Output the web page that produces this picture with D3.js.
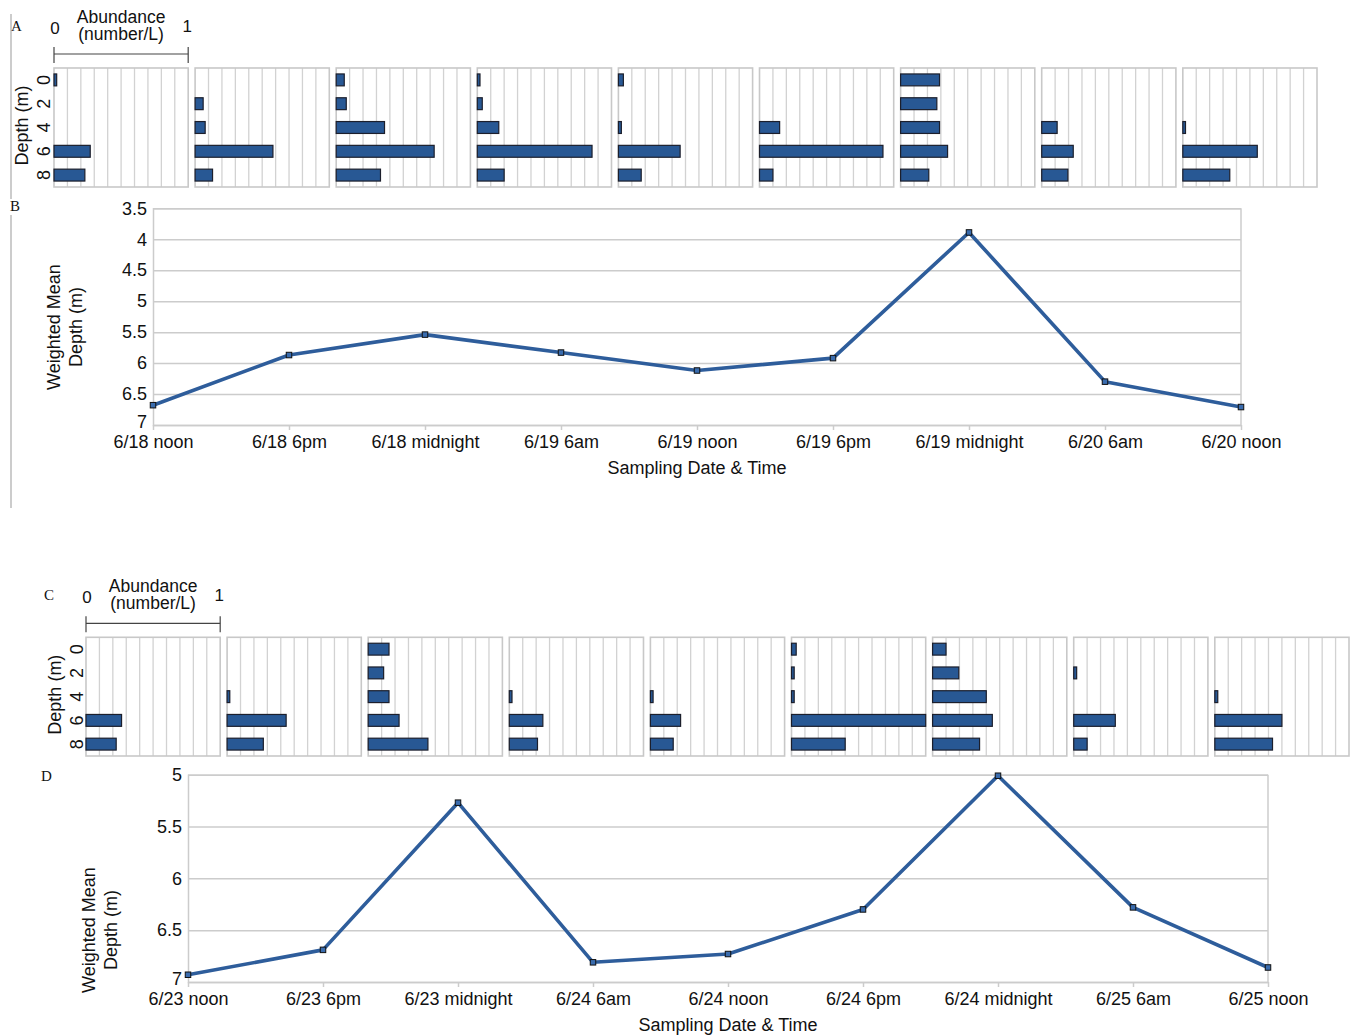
<!DOCTYPE html>
<html>
<head>
<meta charset="utf-8">
<script src="https://cdn.jsdelivr.net/npm/d3@7"></script>
<style>
  html, body { margin: 0; padding: 0; background: #fff; }
  svg { display: block; }
  text { font-family: "Liberation Sans", Arial, sans-serif; fill: #111; }
  .letter { font-family: "Liberation Serif", "Times New Roman", serif; font-size: 15px; }
</style>
</head>
<body>
<svg id="chart" width="1351" height="1035"></svg>
<script>
// Sampling depths (m) of each vertical profile
const depths = [0, 2, 4, 6, 8];

// First sampling series (panels A and B)
const timesAB = ["6/18 noon", "6/18 6pm", "6/18 midnight", "6/19 6am", "6/19 noon",
                 "6/19 6pm", "6/19 midnight", "6/20 6am", "6/20 noon"];
// Abundance (number/L) at depths 0, 2, 4, 6, 8 m for each sampling time
const abundanceA = [
  [0.02, 0, 0, 0.27, 0.23],
  [0, 0.06, 0.075, 0.58, 0.13],
  [0.06, 0.075, 0.36, 0.73, 0.33],
  [0.02, 0.037, 0.16, 0.855, 0.2],
  [0.037, 0, 0.022, 0.46, 0.17],
  [0, 0, 0.15, 0.92, 0.1],
  [0.29, 0.27, 0.29, 0.35, 0.21],
  [0, 0, 0.115, 0.235, 0.195],
  [0, 0, 0.02, 0.555, 0.35]
];
const meanDepthB = [6.68, 5.87, 5.54, 5.83, 6.12, 5.92, 3.89, 6.30, 6.71];
const yTicksB = [3.5, 4, 4.5, 5, 5.5, 6, 6.5, 7];

// Second sampling series (panels C and D)
const timesCD = ["6/23 noon", "6/23 6pm", "6/23 midnight", "6/24 6am", "6/24 noon",
                 "6/24 6pm", "6/24 midnight", "6/25 6am", "6/25 noon"];
const abundanceC = [
  [0, 0, 0, 0.265, 0.225],
  [0, 0, 0.02, 0.44, 0.27],
  [0.155, 0.115, 0.155, 0.23, 0.445],
  [0, 0, 0.02, 0.25, 0.21],
  [0, 0, 0.02, 0.225, 0.17],
  [0.035, 0.02, 0.02, 1.0, 0.40],
  [0.10, 0.195, 0.40, 0.445, 0.35],
  [0, 0.022, 0, 0.31, 0.10],
  [0, 0, 0.022, 0.50, 0.43]
];
const meanDepthD = [6.93, 6.69, 5.27, 6.81, 6.73, 6.30, 5.01, 6.28, 6.86];
const yTicksD = [5, 5.5, 6, 6.5, 7];

const BAR_FILL = "#285894";
const BAR_STROKE = "#1c1f2c";
const LINE_COLOR = "#2e5d9b";
const GRID = "#cccccc";

const svg = d3.select("#chart");

// Row of small depth-profile bar panels with the abundance scale bar above
function drawProfiles(cfg) {
  const g = svg.append("g");
  const panelX = d3.scaleBand().domain(cfg.times).range([cfg.x0, cfg.x1])
    .paddingInner(0.049).paddingOuter(0);
  const bw = panelX.bandwidth();
  const ab = d3.scaleLinear().domain([0, 1]).range([0, bw]);
  const rowY = d3.scaleBand().domain(depths).range([cfg.top, cfg.bottom])
    .paddingInner(0.5).paddingOuter(0.25);

  // abundance scale bar
  const sx = panelX(cfg.times[0]);
  const ly = cfg.scaleY;
  g.append("line").attr("x1", sx + ab(0)).attr("x2", sx + ab(1))
    .attr("y1", ly).attr("y2", ly).attr("stroke", "#444").attr("stroke-width", 1.2);
  [0, 1].forEach(v => {
    g.append("line").attr("x1", sx + ab(v)).attr("x2", sx + ab(v))
      .attr("y1", ly - 7).attr("y2", ly + 9).attr("stroke", "#444").attr("stroke-width", 1.2);
  });
  g.append("text").attr("x", sx + ab(0) + 1).attr("y", ly - 20.5)
    .attr("text-anchor", "middle").attr("font-size", 17).text("0");
  g.append("text").attr("x", sx + ab(1) - 1).attr("y", ly - 22.5)
    .attr("text-anchor", "middle").attr("font-size", 17).text("1");
  g.append("text").attr("x", sx + ab(0.5)).attr("y", ly - 31.5)
    .attr("text-anchor", "middle").attr("font-size", 17.5).text("Abundance");
  g.append("text").attr("x", sx + ab(0.5)).attr("y", ly - 14)
    .attr("text-anchor", "middle").attr("font-size", 17.5).text("(number/L)");

  // depth axis
  const depthLabelX = cfg.depthLabelX;
  depths.forEach(d => {
    const cy = rowY(d) + rowY.bandwidth() / 2;
    g.append("text")
      .attr("transform", `translate(${depthLabelX},${cy}) rotate(-90)`)
      .attr("text-anchor", "middle").attr("font-size", 18).text(d);
  });
  g.append("text")
    .attr("transform", `translate(${depthLabelX - 22},${(cfg.top + cfg.bottom) / 2 - 2}) rotate(-90)`)
    .attr("text-anchor", "middle").attr("font-size", 18).text("Depth (m)");

  cfg.times.forEach((t, i) => {
    const px = panelX(t);
    const p = g.append("g").attr("transform", `translate(${px},0)`);
    // inner vertical grid at 0.1 steps
    d3.range(1, 10).forEach(k => {
      p.append("line").attr("x1", ab(k / 10)).attr("x2", ab(k / 10))
        .attr("y1", cfg.top).attr("y2", cfg.bottom)
        .attr("stroke", "#d2d2d2").attr("stroke-width", 1.3);
    });
    p.append("rect").attr("x", 0).attr("y", cfg.top).attr("width", bw)
      .attr("height", cfg.bottom - cfg.top)
      .attr("fill", "none").attr("stroke", "#c8c8c8").attr("stroke-width", 1.6);
    p.selectAll("rect.bar")
      .data(depths.map((d, j) => ({ d, v: cfg.data[i][j] })).filter(o => o.v > 0))
      .join("rect").attr("class", "bar")
      .attr("x", ab(0)).attr("y", o => rowY(o.d))
      .attr("width", o => ab(o.v)).attr("height", rowY.bandwidth())
      .attr("fill", BAR_FILL).attr("stroke", BAR_STROKE).attr("stroke-width", 1.2);
  });
}

// Weighted mean depth line chart
function drawLine(cfg) {
  const g = svg.append("g");
  const x = d3.scalePoint().domain(cfg.times).range([cfg.left, cfg.right]);
  const y = d3.scaleLinear().domain([cfg.ticks[0], cfg.ticks[cfg.ticks.length - 1]])
    .range([cfg.top, cfg.bottom]);

  // horizontal grid + y labels
  const yAxis = d3.axisLeft(y).tickValues(cfg.ticks).tickSize(-(cfg.right - cfg.left))
    .tickPadding(6).tickFormat(d3.format("~g"));
  const ya = g.append("g").attr("transform", `translate(${cfg.left},0)`).call(yAxis);
  ya.select(".domain").attr("stroke", GRID).attr("stroke-width", 1.5);
  ya.selectAll(".tick line").attr("stroke", GRID).attr("stroke-width", 1.5);
  ya.selectAll(".tick text").attr("font-size", 18).attr("fill", "#111")
    .attr("font-family", "'Liberation Sans', Arial, sans-serif");
  // lowest label sits a touch above its gridline
  ya.selectAll(".tick text").filter(d => d === cfg.ticks[cfg.ticks.length - 1])
    .attr("dy", "0.15em");

  // right border
  g.append("line").attr("x1", cfg.right).attr("x2", cfg.right)
    .attr("y1", cfg.top).attr("y2", cfg.bottom).attr("stroke", GRID).attr("stroke-width", 1.5);

  // x axis with short ticks
  const xAxis = d3.axisBottom(x).tickSize(5).tickPadding(5);
  const xa = g.append("g").attr("transform", `translate(0,${cfg.bottom})`).call(xAxis);
  xa.select(".domain").remove();
  xa.selectAll(".tick line").attr("stroke", GRID).attr("stroke-width", 1.5);
  xa.selectAll(".tick text").attr("font-size", 18).attr("fill", "#111")
    .attr("font-family", "'Liberation Sans', Arial, sans-serif");

  // data line
  const pts = cfg.times.map((t, i) => [x(t), y(cfg.values[i])]);
  g.append("path").attr("d", d3.line()(pts)).attr("fill", "none")
    .attr("stroke", LINE_COLOR).attr("stroke-width", 3.6).attr("stroke-linejoin", "round");
  g.selectAll("rect.mk").data(pts).join("rect").attr("class", "mk")
    .attr("x", p => p[0] - 2.75).attr("y", p => p[1] - 2.75)
    .attr("width", 5.5).attr("height", 5.5)
    .attr("fill", "#3a6cae").attr("stroke", "#111").attr("stroke-width", 1);

  // titles
  g.append("text").attr("x", (cfg.left + cfg.right) / 2).attr("y", cfg.xTitleY)
    .attr("text-anchor", "middle").attr("font-size", 18).text("Sampling Date & Time");
  g.append("text")
    .attr("transform", `translate(${cfg.yTitleX},${cfg.yTitleCY}) rotate(-90)`)
    .attr("text-anchor", "middle").attr("font-size", 18).text("Weighted Mean");
  g.append("text")
    .attr("transform", `translate(${cfg.yTitleX + 22},${cfg.yTitleCY}) rotate(-90)`)
    .attr("text-anchor", "middle").attr("font-size", 18).text("Depth (m)");
}

// left rule of the first figure
svg.append("line").attr("x1", 11).attr("x2", 11).attr("y1", 14).attr("y2", 199)
  .attr("stroke", "#aaa").attr("stroke-width", 1.2);
svg.append("line").attr("x1", 11).attr("x2", 11).attr("y1", 215).attr("y2", 508)
  .attr("stroke", "#aaa").attr("stroke-width", 1.2);

drawProfiles({ times: timesAB, data: abundanceA, x0: 54, x1: 1317,
  top: 68, bottom: 187, scaleY: 54, depthLabelX: 50 });
drawLine({ times: timesAB, values: meanDepthB, ticks: yTicksB,
  left: 153, right: 1241, top: 208.3, bottom: 425,
  xTitleY: 474, yTitleX: 60, yTitleCY: 327 });

drawProfiles({ times: timesCD, data: abundanceC, x0: 86, x1: 1349,
  top: 637.3, bottom: 756, scaleY: 623.3, depthLabelX: 83 });
drawLine({ times: timesCD, values: meanDepthD, ticks: yTicksD,
  left: 188, right: 1268, top: 774.7, bottom: 982,
  xTitleY: 1031, yTitleX: 95, yTitleCY: 930 });

// panel letters
[["A", 11, 31], ["B", 10, 211], ["C", 44, 600], ["D", 41, 781]].forEach(([t, lx, ly]) => {
  svg.append("text").attr("class", "letter").attr("x", lx).attr("y", ly).text(t);
});
</script>
</body>
</html>
